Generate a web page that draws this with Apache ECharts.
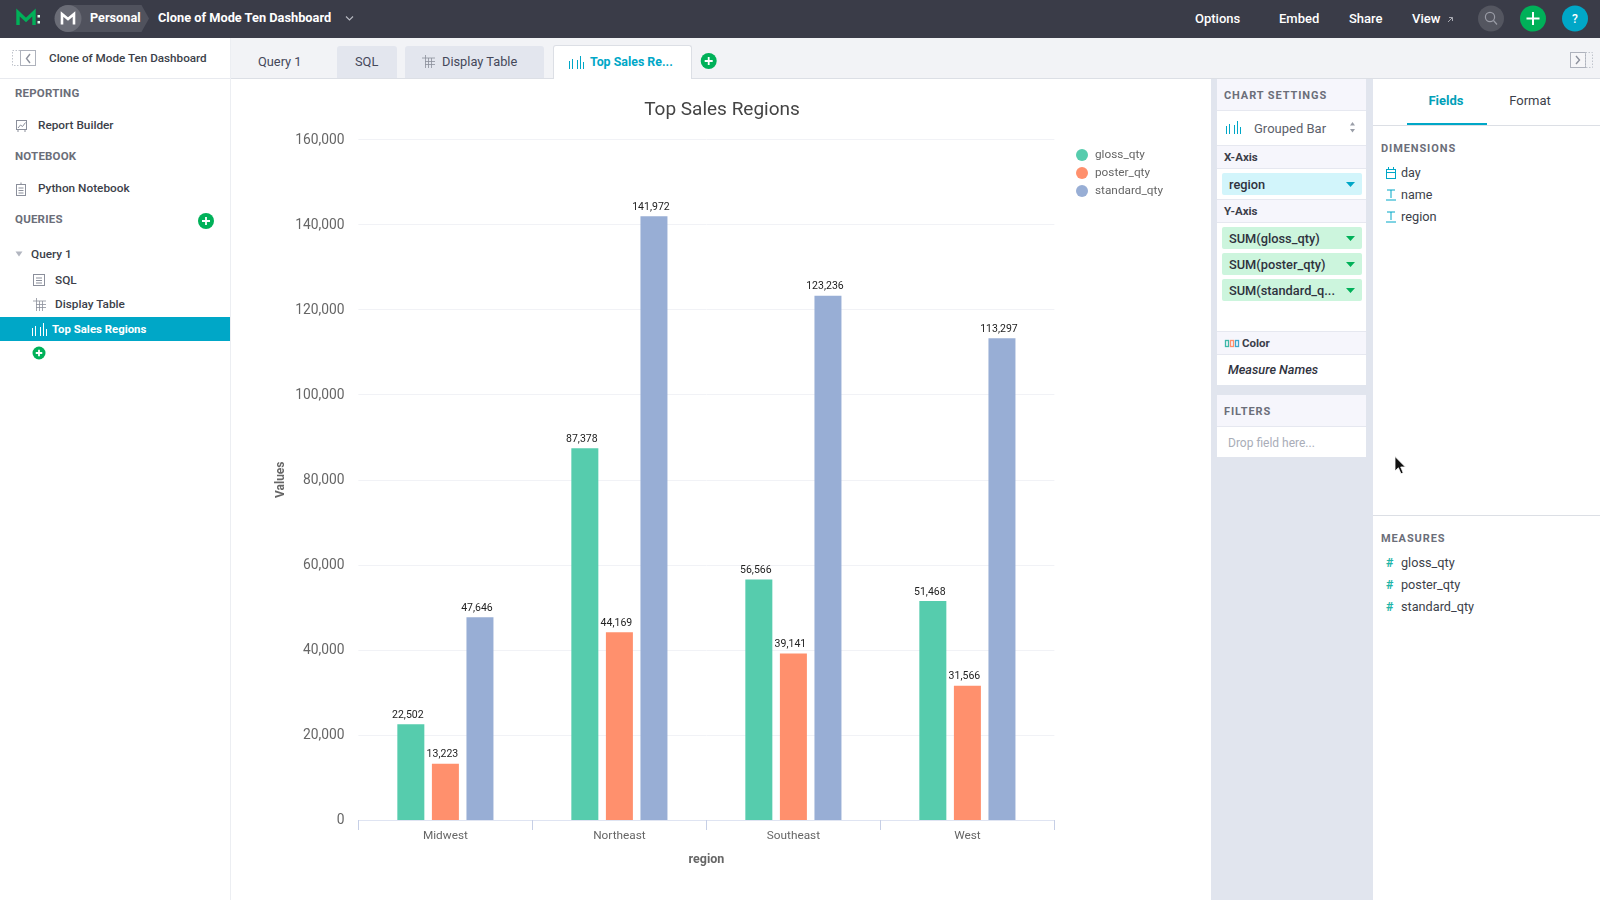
<!DOCTYPE html>
<html><head><meta charset="utf-8"><title>Top Sales Regions</title>
<script src="https://cdn.jsdelivr.net/npm/echarts@6/dist/echarts.min.js"></script>
<style>
html,body{margin:0;padding:0;width:1600px;height:900px;overflow:hidden;background:#fff;font-family:Roboto,sans-serif;color:#3c3f4a}
.b{position:absolute}
.t{position:absolute;white-space:nowrap;transform:translateY(-50%);line-height:1}
svg{position:absolute;overflow:visible}
#chart{position:absolute;left:231px;top:79px;width:980px;height:821px}
#ui{position:absolute;left:0;top:0;width:1600px;height:900px}
</style></head><body>
<div id="ui"></div>
<div id="chart"></div>
<script>
const categories=['Midwest','Northeast','Southeast','West'];
const glossQty=[22502,87378,56566,51468];
const posterQty=[13223,44169,39141,31566];
const standardQty=[47646,141972,123236,113297];
const seriesNames=['gloss_qty','poster_qty','standard_qty'];
const seriesColors=['#56ccad','#ff906d','#98aed5'];

const ui=document.getElementById('ui');
function box(x,y,w,h,bg,extra){const d=document.createElement('div');d.className='b';
  d.style.cssText=`left:${x}px;top:${y}px;width:${w}px;height:${h}px;background:${bg};${extra||''}`;ui.appendChild(d);return d;}
function txt(x,y,s,size,color,extra){const d=document.createElement('div');d.className='t';d.textContent=s;
  d.style.cssText=`left:${x}px;top:${y}px;font-size:${size}px;color:${color};${extra||''}`;ui.appendChild(d);return d;}
function svg(html){const w=document.createElementNS('http://www.w3.org/2000/svg','svg');
  w.setAttribute('width','1600');w.setAttribute('height','900');w.style.cssText='left:0;top:0;pointer-events:none';w.innerHTML=html;ui.appendChild(w);}
function plus(cx,cy,r){return `<circle cx="${cx}" cy="${cy}" r="${r}" fill="#00b159"/><path d="M${cx-r*.5} ${cy}H${cx+r*.5}M${cx} ${cy-r*.5}V${cy+r*.5}" stroke="#fff" stroke-width="${r>10?2:1.8}"/>`;}
function barsIcon(x,y,c){return `<path d="M${x+.5} ${y+13}V${y+5}M${x+3.5} ${y+13}V${y+3}M${x+8.5} ${y+13}V${y+4}M${x+11.5} ${y+13}V${y}M${x+14.5} ${y+13}V${y+6}" stroke="${c}" stroke-width="1" fill="none"/>`;}
function gridIcon(x,y,c){return `<path d="M${x} ${y+3}H${x+13}M${x+3} ${y+6.5}H${x+13}M${x+3} ${y+9.5}H${x+13}M${x+3.5} ${y}V${y+13}M${x+6.5} ${y+3}V${y+13}M${x+9.5} ${y+3}V${y+13}" stroke="${c}" stroke-width=".8" fill="none"/>`;}
function docIcon(x,y){return `<rect x="${x+.5}" y="${y+.5}" width="11" height="11" fill="none" stroke="#8b8f9b"/><path d="M${x+3} ${y+4}H${x+9}M${x+3} ${y+6.5}H${x+9}M${x+3} ${y+9}H${x+9}" stroke="#8b8f9b"/>`;}

// top bar
box(0,0,1600,38,'#3a3c48');
box(55,5,94,27,'#50525d','border-radius:14px 4px 4px 14px;clip-path:polygon(0 0,92% 0,100% 50%,92% 100%,0 100%)');
txt(90,18,'Personal',12.7,'#fff','font-weight:700');
txt(158,18,'Clone of Mode Ten Dashboard',12.8,'#fff','font-weight:700');
[['Options',1195],['Embed',1279],['Share',1349],['View',1412]].forEach(a=>txt(a[1],17.5,a[0],13,'#fff','font-weight:500'));
svg(`<path d="M18 25V12.5L26 20L34 12.5V25" fill="none" stroke="#00b159" stroke-width="3.4"/>
<rect x="37.5" y="15" width="2.5" height="2.5" fill="#dfe"/><rect x="37.5" y="21" width="2.5" height="2.5" fill="#dfe"/>
<circle cx="68" cy="18.5" r="13.5" fill="#6a6c76"/>
<path d="M62 24.5V14L68 19L74 14V24.5" fill="none" stroke="#fff" stroke-width="2.6"/>
<path d="M346 16.5l3.5 3.5l3.5-3.5" fill="none" stroke="#b8bac2" stroke-width="1.1"/>
<path d="M1448 22l4.5-4.5M1449 17.5h3.5v3.5" fill="none" stroke="#a8aab2"/>
<circle cx="1491" cy="18.5" r="13" fill="#545660"/><circle cx="1490" cy="17" r="4.6" fill="none" stroke="#9a9ca6" stroke-width="1.2"/><path d="M1493.5 20.5l3.5 4" stroke="#9a9ca6" stroke-width="1.2"/>
${plus(1533,18.5,13)}
<circle cx="1575" cy="18.5" r="13" fill="#00a7c7"/>`);
txt(1575,18.5,'?',12,'#fff','transform:translate(-50%,-50%);font-weight:500');

// left sidebar
box(230,38,1,862,'#eceef2');
box(0,78,230,1,'#e8eaef');
svg(`<rect x="12.5" y="50.5" width="9" height="15" fill="none" stroke="#c0c4cc" stroke-dasharray="1.5 1.5"/>
<rect x="20.5" y="50.5" width="15" height="15" fill="#fff" stroke="#aeb2bc"/><path d="M30 54l-3.5 4.5l3.5 4.5" fill="none" stroke="#8d919c" stroke-width="1.4"/>
<rect x="16.5" y="120.5" width="10" height="9" fill="none" stroke="#8b8f9b"/><path d="M18 128l2.5-3l2 1.5l3-4" fill="none" stroke="#8b8f9b"/><path d="M18 130v2M25 130v2" stroke="#8b8f9b"/>
<rect x="16.5" y="184.5" width="9" height="11" fill="none" stroke="#8b8f9b"/><path d="M18.5 188H23.5M18.5 190.5H23.5M18.5 193H23.5M21 182.5v2" stroke="#8b8f9b"/>
${plus(206,221,8)}
<path d="M15.5 251.5h7l-3.5 5z" fill="#b2b6c0"/>
${docIcon(33,274)}${gridIcon(33,298,'#8b8f9b')}
${plus(39,353,6.5)}`);
txt(49,58.5,'Clone of Mode Ten Dashboard',11.7,'#3c3f4a','font-weight:500');
const hd='font-weight:700;letter-spacing:.2px';
txt(15,93.5,'REPORTING',11.5,'#6b6e79',hd);
txt(38,126,'Report Builder',11.8,'#3c3f4a','font-weight:500');
txt(15,156.5,'NOTEBOOK',11.5,'#6b6e79',hd);
txt(38,189,'Python Notebook',11.8,'#3c3f4a','font-weight:500');
txt(15,219.5,'QUERIES',11.5,'#6b6e79',hd);
txt(31,255,'Query 1',11.8,'#3c3f4a','font-weight:500');
txt(55,281,'SQL',11.8,'#3c3f4a','font-weight:500');
txt(55,305,'Display Table',11.8,'#3c3f4a','font-weight:500');
box(0,317,230,24,'#00a7c7');
txt(52,329.5,'Top Sales Regions',11.4,'#fff','font-weight:700');
svg(barsIcon(32,323,'#fff'));

// tabs
box(231,38,1369,40,'#f2f3f6');
box(231,78,1369,1,'#dcdfe5');
box(337,46,60,32,'#e3e6ee','border-radius:3px 3px 0 0');
box(405,46,139,32,'#e3e6ee','border-radius:3px 3px 0 0');
box(553,45,139,34,'#fff','box-sizing:border-box;border:1px solid #dcdfe5;border-bottom:none;border-radius:3px 3px 0 0');
txt(258,62,'Query 1',12.8,'#45485a');
txt(355,62,'SQL',12.8,'#45485a');
txt(442,62,'Display Table',12.8,'#45485a');
txt(590,62,'Top Sales Re...',12.4,'#00a7c7','font-weight:700');
svg(`${gridIcon(422,55,'#8b8f9b')}${barsIcon(569,56,'#00a7c7')}${plus(708.7,61,8)}
<rect x="1570.5" y="52.5" width="15" height="15" fill="#f6f6f8" stroke="#aeb2bc"/><path d="M1576 56l3.5 4l-3.5 4" fill="none" stroke="#8d919c" stroke-width="1.4"/>
<rect x="1585.5" y="52.5" width="7" height="15" fill="none" stroke="#c0c4cc" stroke-dasharray="1.5 1.5"/>`);

// chart settings column
box(1211,79,162,821,'#e1e5ee');
box(1217,79,149,306,'#fff');
box(1217,79,149,31,'#f6f6fc');
box(1217,146,149,22,'#f6f6fc');
box(1217,199,149,23,'#f6f6fc');
box(1217,332,149,22,'#f6f6fc');
['110','145','168','199','222','331','354'].forEach(y=>box(1217,+y,149,1,'#e6e8f0'));
const sh='font-weight:700;letter-spacing:.9px';
txt(1224,95,'CHART SETTINGS',11,'#6b6e79',sh);
txt(1254,127.5,'Grouped Bar',13,'#5c5f6b');
txt(1224,158,'X-Axis',11.5,'#3c3f4a','font-weight:700');
box(1222,173,140,22,'#d2f5fb','border-radius:2px');
txt(1229,185,'region',12.8,'#2f323d','font-weight:500');
txt(1224,212,'Y-Axis',11.5,'#3c3f4a','font-weight:700');
[[227,'SUM(gloss_qty)'],[253,'SUM(poster_qty)'],[279,'SUM(standard_q...']].forEach(r=>{
  box(1222,r[0],140,22,'#ccf5dd','border-radius:2px');
  txt(1229,r[0]+12,r[1],12.8,'#2f323d','font-weight:500');
});
txt(1242,344,'Color',11.5,'#3c3f4a','font-weight:700');
txt(1228,370,'Measure Names',12.7,'#2f323d','font-style:italic;font-weight:500');
box(1217,395,149,62,'#fff');
box(1217,395,149,31,'#f6f6fc');
box(1217,426,149,1,'#e6e8f0');
txt(1224,411,'FILTERS',11,'#6b6e79',sh);
txt(1228,443,'Drop field here...',12,'#a9adb8');
svg(`${barsIcon(1226,121,'#00a7c7')}
<path d="M1350 125.5l2.5-3.5l2.5 3.5zM1350 129l2.5 3.5l2.5-3.5z" fill="#9a9ea8"/>
<path d="M1346 182h9l-4.5 5z" fill="#00a7c7"/>
<path d="M1346 236h9l-4.5 5zM1346 262h9l-4.5 5zM1346 288h9l-4.5 5z" fill="#00b159"/>
<rect x="1225.5" y="340.5" width="3" height="6" fill="none" stroke="#3fb8a8" stroke-width="1.3"/><rect x="1230.5" y="340.5" width="3" height="6" fill="none" stroke="#ff906d" stroke-width="1.3"/><rect x="1235.5" y="340.5" width="3" height="6" fill="none" stroke="#3fa8cc" stroke-width="1.3"/>`);

// fields panel
box(1373,125,227,1,'#dcdfe5');
box(1407,123,80,2,'#00a7c7');
txt(1446,100,'Fields',13,'#00a0b8','font-weight:700;transform:translate(-50%,-50%)');
txt(1530,100,'Format',13,'#3c3f4a','transform:translate(-50%,-50%)');
txt(1381,148,'DIMENSIONS',11,'#6b6e79',sh);
txt(1401,173,'day',12.5,'#3c3f4a');
txt(1401,195,'name',12.5,'#3c3f4a');
txt(1401,217,'region',12.8,'#3c3f4a');
box(1373,515,227,1,'#dcdfe5');
txt(1381,538,'MEASURES',11,'#6b6e79',sh);
[[563,'gloss_qty'],[585,'poster_qty'],[607,'standard_qty']].forEach(r=>{
  txt(1401,r[0],r[1],12.7,'#3c3f4a');
  txt(1386,r[0],'#',12.5,'#1fb5a8','font-weight:700');
});
function tIcon(y){return `<path d="M1387 ${y-5}h8M1391 ${y-5}v8M1386 ${y+5}h10" fill="none" stroke="#00a7c7"/>`;}
svg(`<rect x="1386.5" y="169.5" width="9" height="9" fill="none" stroke="#00a7c7"/><path d="M1386.5 172.5h9M1388.5 167v2M1393.5 167v2" stroke="#00a7c7"/>
${tIcon(195)}${tIcon(217)}
<path d="M1395 456.5v14.5l3.4-3.2l2.6 6l2.2-1l-2.5-5.8h4.7z" fill="#111" stroke="#fff" stroke-width=".8"/>`);

// chart
const chart=echarts.init(document.getElementById('chart'));
const axisFont='Roboto, sans-serif';
const values=[glossQty,posterQty,standardQty];
chart.setOption({
  animation:false,
  textStyle:{fontFamily:axisFont},
  color:seriesColors,
  title:{text:'Top Sales Regions',left:486,top:17,textAlign:'center',
    textStyle:{fontSize:19,fontWeight:400,color:'#444',fontFamily:axisFont}},
  legend:{orient:'vertical',left:840,top:65,icon:'circle',itemWidth:12,itemHeight:12,itemGap:6,
    textStyle:{fontSize:11.8,color:'#666',padding:[0,0,0,2]},data:seriesNames},
  grid:{left:127.4,top:60.5,width:696,height:680.5,containLabel:false},
  xAxis:{type:'category',data:categories,
    name:'region',nameLocation:'middle',nameGap:33,nameMoveOverlap:false,
    nameTextStyle:{fontSize:12.5,fontWeight:'bold',color:'#666'},
    axisLine:{lineStyle:{color:'#dfe4f2',width:1}},
    axisTick:{show:true,length:10,alignWithLabel:false,lineStyle:{color:'#c6cfe6'}},
    axisLabel:{fontSize:11.8,color:'#666',margin:10},
    splitLine:{show:false}},
  yAxis:{type:'value',min:0,max:160000,interval:20000,
    name:'Values',nameLocation:'middle',nameGap:71,nameMoveOverlap:false,
    nameTextStyle:{fontSize:12,fontWeight:'bold',color:'#666'},
    axisLine:{show:false},axisTick:{show:false},
    axisLabel:{fontSize:13.8,color:'#666',margin:14,verticalAlign:'top',lineHeight:16,padding:[-7,0,0,0],formatter:v=>v.toLocaleString('en-US')},
    splitLine:{lineStyle:{color:'#f1f2f6',width:1}}},
  series:seriesNames.map((n,i)=>({
    name:n,type:'bar',data:values[i],barWidth:27,barGap:'28%',
    label:{show:true,position:'top',distance:3.5,offset:[-3,0],fontSize:10.5,color:'#222',
      formatter:p=>p.value.toLocaleString('en-US')}
  }))
});
</script>
</body></html>
